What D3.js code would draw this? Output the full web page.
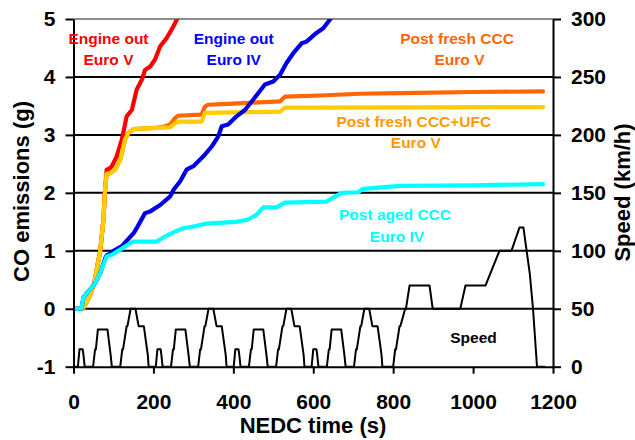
<!DOCTYPE html>
<html>
<head>
<meta charset="utf-8">
<script src="https://cdn.jsdelivr.net/npm/d3@7"></script>
<style>
  html, body { margin: 0; padding: 0; background: #fff; }
  svg { display: block; font-family: "Liberation Sans", Arial, sans-serif; }
</style>
</head>
<body>
<svg id="chart" width="635" height="440"></svg>
<script>
// Cumulative CO emissions over the NEDC (g) and vehicle speed (km/h)

const xTicks = [0, 200, 400, 600, 800, 1000, 1200];
const coTicks = [-1, 0, 1, 2, 3, 4, 5];
const speedTicks = [0, 50, 100, 150, 200, 250, 300];

// Engine out, Euro V
const engineV_t  = [0, 22, 25, 40, 52, 60, 67, 75, 79, 83, 90, 96, 108, 121, 133, 146, 158, 171, 179, 192, 204, 217, 233, 250, 262, 270];
const engineV_co = [0, 0, 0.02, 0.21, 0.44, 0.75, 1.0, 1.55, 2.05, 2.4, 2.42, 2.46, 2.63, 2.92, 3.32, 3.43, 3.78, 3.95, 4.12, 4.18, 4.3, 4.53, 4.67, 4.87, 5.04, 5.15];

// Engine out, Euro IV
const engineIV_t  = [0, 20, 25, 40, 55, 67, 80, 83, 92, 100, 121, 151, 158, 179, 192, 217, 242, 250, 267, 283, 300, 325, 346, 362, 371, 387, 408, 429, 450, 479, 500, 517, 533, 550, 571, 583, 608, 625, 642, 660];
const engineIV_co = [0, 0, 0.2, 0.32, 0.45, 0.62, 0.88, 0.92, 0.95, 1.0, 1.08, 1.31, 1.39, 1.65, 1.68, 1.79, 1.94, 2.05, 2.2, 2.4, 2.46, 2.63, 2.8, 2.97, 3.15, 3.18, 3.32, 3.43, 3.61, 3.87, 3.92, 4.04, 4.24, 4.41, 4.58, 4.61, 4.76, 4.84, 4.99, 5.2];

// Post fresh CCC, Euro V
const freshCCC_t  = [0, 22, 25, 40, 52, 60, 67, 75, 79, 83, 92, 104, 117, 129, 137, 150, 208, 230, 242, 254, 262, 317, 321, 329, 337, 400, 517, 529, 617, 717, 817, 1000, 1175];
const freshCCC_co = [0, 0, 0.02, 0.21, 0.44, 0.75, 1.0, 1.55, 2.05, 2.33, 2.34, 2.4, 2.57, 2.92, 3.03, 3.1, 3.12, 3.15, 3.18, 3.29, 3.33, 3.35, 3.36, 3.49, 3.52, 3.54, 3.58, 3.66, 3.68, 3.71, 3.72, 3.74, 3.75];

// Post fresh CCC+UFC, Euro V
const freshUFC_t  = [0, 22, 25, 40, 52, 60, 67, 75, 79, 83, 92, 104, 117, 129, 137, 150, 208, 242, 254, 262, 321, 329, 400, 517, 529, 617, 1175];
const freshUFC_co = [0, 0, 0.02, 0.21, 0.44, 0.75, 1.0, 1.55, 2.05, 2.33, 2.34, 2.4, 2.57, 2.92, 3.03, 3.1, 3.12, 3.13, 3.2, 3.23, 3.23, 3.38, 3.39, 3.4, 3.47, 3.47, 3.48];

// Post aged CCC, Euro IV
const agedCCC_t  = [0, 20, 25, 40, 54, 67, 83, 96, 117, 135, 150, 208, 225, 254, 275, 300, 333, 408, 437, 458, 475, 508, 529, 633, 671, 712, 725, 817, 1000, 1175];
const agedCCC_co = [0, 0, 0.2, 0.32, 0.44, 0.62, 0.9, 0.93, 1.02, 1.1, 1.16, 1.16, 1.23, 1.33, 1.39, 1.42, 1.47, 1.5, 1.54, 1.62, 1.75, 1.75, 1.83, 1.85, 2.0, 2.01, 2.07, 2.12, 2.13, 2.15];

// NEDC speed trace: four ECE-15 urban cycles followed by the EUDC
const speed_t = [
  0, 11, 15, 23, 25, 28, 49, 54, 56, 61, 85, 93, 96, 117, 122, 124, 133, 135, 143, 155, 163, 176, 186, 188,
  206, 210, 218, 220, 223, 244, 249, 251, 256, 280, 288, 291, 312, 317, 319, 328, 330, 338, 350, 358, 371, 381, 383,
  401, 405, 413, 415, 418, 439, 444, 446, 451, 475, 483, 486, 507, 512, 514, 523, 525, 533, 545, 553, 566, 576, 578,
  596, 600, 608, 610, 613, 634, 639, 641, 646, 670, 678, 681, 702, 707, 709, 718, 720, 728, 740, 748, 761, 771, 773,
  800, 805, 807, 816, 818, 830, 832, 841, 891, 899, 968, 981, 1031, 1066, 1096, 1116, 1126, 1142, 1150, 1160, 1180
];
const speed_kmh = [
  0, 0, 15, 15, 10, 0, 0, 15, 15, 32, 32, 10, 0, 0, 15, 15, 35, 35, 50, 50, 35, 35, 10, 0,
  0, 15, 15, 10, 0, 0, 15, 15, 32, 32, 10, 0, 0, 15, 15, 35, 35, 50, 50, 35, 35, 10, 0,
  0, 15, 15, 10, 0, 0, 15, 15, 32, 32, 10, 0, 0, 15, 15, 35, 35, 50, 50, 35, 35, 10, 0,
  0, 15, 15, 10, 0, 0, 15, 15, 32, 32, 10, 0, 0, 15, 15, 35, 35, 50, 50, 35, 35, 10, 0,
  0, 15, 15, 35, 35, 50, 50, 70, 70, 50, 50, 70, 70, 100, 100, 120, 120, 80, 50, 0, 0
];

const seriesNames  = ["Engine out Euro V", "Post fresh CCC Euro V", "Post fresh CCC+UFC Euro V", "Engine out Euro IV", "Post aged CCC Euro IV"];
const seriesTimes  = [engineV_t, freshCCC_t, freshUFC_t, engineIV_t, agedCCC_t];
const seriesValues = [engineV_co, freshCCC_co, freshUFC_co, engineIV_co, agedCCC_co];
const seriesColors = ["#ff0000", "#ff6600", "#ffcc00", "#0000e6", "#00ffff"];

const svg = d3.select("#chart");
const plotLeft = 73.5, plotRight = 553, plotTop = 19, plotBottom = 366.7;

const x = d3.scaleLinear().domain([0, 1200]).range([plotLeft, plotRight]);
const yCO = d3.scaleLinear().domain([-1, 5]).range([plotBottom, plotTop]);
const ySpeed = d3.scaleLinear().domain([0, 300]).range([plotBottom, plotTop]);

svg.append("defs").append("clipPath").attr("id", "plot")
  .append("rect").attr("x", plotLeft).attr("y", plotTop)
  .attr("width", plotRight - plotLeft).attr("height", plotBottom - plotTop);

// horizontal gridlines
svg.append("g").selectAll("line")
  .data(coTicks.filter(d => d > -1))
  .join("line")
  .attr("x1", plotLeft).attr("x2", plotRight)
  .attr("y1", d => yCO(d)).attr("y2", d => yCO(d))
  .attr("stroke", d => d === 5 ? "#8c8c8c" : "#000")
  .attr("stroke-width", 2);

// speed trace
svg.append("path")
  .datum(speed_t.map((t, i) => [t, speed_kmh[i]]))
  .attr("clip-path", "url(#plot)")
  .attr("fill", "none")
  .attr("stroke", "#000")
  .attr("stroke-width", 2)
  .attr("stroke-linejoin", "round")
  .attr("d", d3.line().x(d => x(d[0])).y(d => ySpeed(d[1])));

// cumulative CO curves
const coLine = d3.line().x(d => x(d[0])).y(d => yCO(d[1]));
svg.append("g").attr("clip-path", "url(#plot)")
  .selectAll("path")
  .data(seriesNames.map((n, i) => ({ name: n, color: seriesColors[i], pts: seriesTimes[i].map((t, j) => [t, seriesValues[i][j]]) })))
  .join("path")
  .attr("fill", "none")
  .attr("stroke", d => d.color)
  .attr("stroke-width", 4.2)
  .attr("stroke-linejoin", "round")
  .attr("stroke-linecap", "round")
  .attr("d", d => coLine(d.pts));

// axes
function styleAxis(g) {
  g.selectAll(".domain").attr("stroke", "#000").attr("stroke-width", 2);
  g.selectAll(".tick line").attr("stroke", "#000").attr("stroke-width", 2);
  g.selectAll(".tick text")
    .attr("fill", "#000")
    .style("font-family", "'Liberation Sans', Arial, sans-serif")
    .style("font-size", "21px")
    .style("font-weight", "bold");
}

svg.append("g")
  .attr("transform", `translate(${plotLeft},0)`)
  .call(d3.axisLeft(yCO).tickValues(coTicks).tickFormat(d => String(d)).tickSize(8).tickSizeOuter(0).tickPadding(10))
  .call(styleAxis);

svg.append("g")
  .attr("transform", `translate(${plotRight},0)`)
  .call(d3.axisRight(ySpeed).tickValues(speedTicks).tickFormat(d => String(d)).tickSize(8).tickSizeOuter(0).tickPadding(10))
  .call(styleAxis);

svg.append("g")
  .attr("transform", `translate(0,${plotBottom})`)
  .call(d3.axisBottom(x).tickValues(xTicks).tickFormat(d => String(d)).tickSize(7).tickSizeOuter(0).tickPadding(20))
  .call(styleAxis);

// axis titles
const titleStyle = sel => sel
  .attr("font-size", 22).attr("font-weight", "bold").attr("fill", "#000").attr("text-anchor", "middle");

svg.append("text").attr("x", 313).attr("y", 433).text("NEDC time (s)").call(titleStyle);
svg.append("text").attr("transform", "translate(29,191.5) rotate(-90)").text("CO emissions (g)").call(titleStyle);
svg.append("text").attr("transform", "translate(630,192.5) rotate(-90)").text("Speed (km/h)").call(titleStyle);

// series labels
const labelText  = [["Engine out", "Euro V"], ["Engine out", "Euro IV"], ["Post fresh CCC", "Euro V"], ["Post fresh CCC+UFC", "Euro V"], ["Post aged CCC", "Euro IV"], ["Speed"]];
const labelColor = ["#ff0000", "#0000ff", "#ff6600", "#ff9900", "#00ffff", "#000"];
const labelX = [[108.5, 108.5], [233.7, 233.7], [457, 459.5], [413.8, 415.8], [395, 397], [473.5]];
const labelY = [[44, 65], [44, 65], [44, 65], [126.7, 148.3], [220, 241.7], [342.7]];

labelText.forEach((lines, i) => {
  lines.forEach((s, j) => {
    svg.append("text")
      .attr("x", labelX[i][j]).attr("y", labelY[i][j])
      .attr("text-anchor", "middle")
      .attr("font-size", 15.5).attr("font-weight", "bold")
      .attr("fill", labelColor[i])
      .text(s);
  });
});
</script>
</body>
</html>
